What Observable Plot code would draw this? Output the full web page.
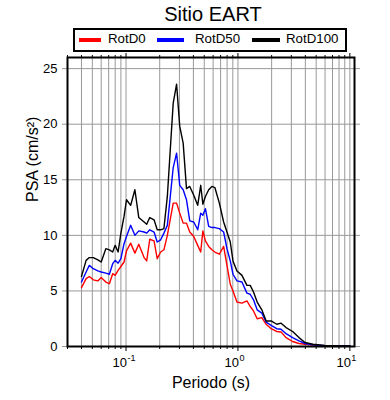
<!DOCTYPE html>
<html><head><meta charset="utf-8">
<script src="https://cdn.jsdelivr.net/npm/d3@7"></script>
<script src="https://cdn.jsdelivr.net/npm/@observablehq/plot@0.6"></script>
<style>
body{margin:0;background:#fff;}
#wrap{position:relative;width:390px;height:400px;font-family:"Liberation Sans",Arial,sans-serif;color:#000;}
#wrap svg{position:absolute;left:0;top:0;}
.abs{position:absolute;white-space:nowrap;}
</style>
</head><body><div id="wrap"></div>
<script>
const title = "Sitio EART";
const xLabel = "Periodo (s)";
const yLabel = "PSA (cm/s²)";
const seriesNames = ["RotD0", "RotD50", "RotD100"];
const seriesColors = ["red", "blue", "black"];

const periods = [0.040,0.044,0.047,0.051,0.056,0.060,0.066,0.071,0.076,0.080,0.085,0.090,0.096,0.101,0.110,0.120,0.130,0.145,0.153,0.163,0.178,0.190,0.204,0.218,0.234,0.264,0.283,0.302,0.324,0.347,0.371,0.403,0.437,0.465,0.486,0.512,0.548,0.585,0.622,0.682,0.745,0.798,0.854,0.903,0.980,1.086,1.203,1.287,1.377,1.485,1.635,1.786,1.98,2.22,2.43,2.69,3.08,3.51,3.97,4.68,5.98,8.13,10.0];
const rotD100 = [6.3,7.75,8.0,8.0,7.8,7.6,8.8,8.7,8.5,9.1,8.5,10.2,11.7,13.2,12.7,14.1,11.6,11.2,11.0,11.6,11.4,10.5,10.5,10.6,13.5,21.9,23.6,19.8,18.3,14.2,14.4,13.6,12.7,14.5,12.8,13.5,14.1,14.4,14.3,12.9,11.2,10.3,9.4,7.7,6.8,6.4,5.5,5.5,4.9,4.0,3.3,2.3,2.3,2.0,2.1,1.7,1.35,0.8,0.36,0.2,0.1,0.06,0.04];
const rotD50 = [5.8,6.7,7.3,7.0,6.8,6.7,6.6,6.5,7.45,7.75,7.5,7.9,9.25,9.9,10.9,10.0,10.4,10.3,10.2,10.5,10.3,9.4,9.6,10.2,10.9,16.1,17.4,14.5,14.1,13.2,11.3,11.2,10.5,12.0,11.8,12.4,10.8,10.7,10.7,10.6,10.3,8.8,7.7,6.5,5.9,5.8,4.8,4.7,4.2,3.3,3.0,2.2,1.9,1.6,1.55,1.15,0.8,0.5,0.27,0.15,0.08,0.05,0.04];
const rotD0 = [5.3,6.1,6.3,6.0,5.9,6.2,5.8,5.65,6.55,6.4,6.85,7.2,7.6,8.6,9.3,8.4,9.2,8.0,7.7,9.65,9.5,7.9,8.5,8.7,10.0,12.9,12.9,12.0,11.1,11.1,10.3,9.9,9.1,8.5,10.4,9.5,9.0,8.7,8.5,8.3,9.0,7.3,5.6,5.0,4.0,3.9,4.1,3.6,3.2,2.5,2.6,2.0,1.6,1.35,1.3,0.8,0.45,0.27,0.2,0.12,0.08,0.05,0.04];

const xMinorTicks = [0.03,0.04,0.05,0.06,0.07,0.08,0.09,0.2,0.3,0.4,0.5,0.6,0.7,0.8,0.9,2,3,4,5,6,7,8,9];
const xMajorTicks = [0.1, 1, 10];
const xMajorExp = ["-1", "0", "1"];
const yTicks = [0, 5, 10, 15, 20, 25];

const seriesValues = [rotD0, rotD50, rotD100];
const rows = seriesValues.map((vals, s) => periods.map((T, i) => ({T, v: vals[i], s})));

const font = "Liberation Sans, Arial, sans-serif";
const chart = Plot.plot({
  width: 390, height: 400,
  marginLeft: 67, marginRight: 36, marginTop: 57, marginBottom: 54,
  x: {type: "log", domain: [0.03, 11]},
  y: {domain: [0, 26]},
  style: {fontFamily: font, fontSize: "13px", background: "white", color: "black"},
  marks: [
    Plot.ruleX([...xMinorTicks.slice(1), ...xMajorTicks], {x: d => d, stroke: "#999", strokeWidth: 1}),
    Plot.ruleY(yTicks.slice(1), {y: d => d, stroke: "#999", strokeWidth: 1}),
    ...rows.map((r, s) => Plot.line(r, {x: "T", y: "v", stroke: seriesColors[s], strokeWidth: 1.4})),
    Plot.axisX({anchor: "bottom", ticks: xMinorTicks, tickSize: 3, tickFormat: () => "", label: null, stroke: "black"}),
    Plot.axisX({anchor: "bottom", ticks: xMajorTicks, tickSize: 5, tickFormat: () => "", label: null, stroke: "black"}),
    Plot.axisX({anchor: "top", ticks: xMinorTicks, tickSize: 3, tickFormat: () => "", label: null, stroke: "black"}),
    Plot.axisX({anchor: "top", ticks: xMajorTicks, tickSize: 5, tickFormat: () => "", label: null, stroke: "black"}),
    Plot.axisY({anchor: "left", ticks: yTicks, tickSize: 5, tickPadding: 5, stroke: "#999", fill: "black", fontSize: 13, label: null}),
    Plot.axisY({anchor: "right", ticks: yTicks, tickSize: 5, tickFormat: () => "", stroke: "#999", label: null}),
    Plot.frame({stroke: "black", strokeWidth: 2}),
    Plot.text(xMajorTicks, {x: d => d, frameAnchor: "bottom", text: () => "10", textAnchor: "end", lineAnchor: "bottom", dx: 1, dy: 20.5, fontSize: 13, fill: "black"}),
    Plot.text(xMajorTicks, {x: d => d, frameAnchor: "bottom", text: (d, i) => xMajorExp[i], textAnchor: "start", lineAnchor: "bottom", dx: 1.5, dy: 14.5, fontSize: 9, fill: "black"}),
    Plot.text([xLabel], {text: d => d, frameAnchor: "bottom", lineAnchor: "bottom", dy: 41.5, fontSize: 16, fill: "black"}),
    Plot.text([yLabel], {text: d => d, frameAnchor: "left", rotate: -90, dx: -34.5, fontSize: 16, fill: "black"})
  ]
});

const wrap = document.getElementById("wrap");
wrap.appendChild(chart);

function addDiv(style, text) {
  const d = document.createElement("div");
  d.className = "abs";
  Object.assign(d.style, style);
  if (text != null) d.textContent = text;
  wrap.appendChild(d);
  return d;
}
addDiv({left: "18px", top: "4px", width: "390px", textAlign: "center", fontSize: "20px", lineHeight: "20px"}, title);
addDiv({left: "73px", top: "28px", width: "274px", height: "24px", border: "2px solid black", boxSizing: "border-box", background: "white"});
const legendLines = [[79, 22], [157, 27], [252, 28]];
const legendText = [108, 195, 286];
seriesNames.forEach((name, i) => {
  addDiv({left: legendLines[i][0] + "px", top: "38px", width: legendLines[i][1] + "px", height: "4px", background: seriesColors[i]});
  addDiv({left: legendText[i] + "px", top: "32px", fontSize: "13.3px", lineHeight: "14px"}, name);
});
</script>
</body></html>
